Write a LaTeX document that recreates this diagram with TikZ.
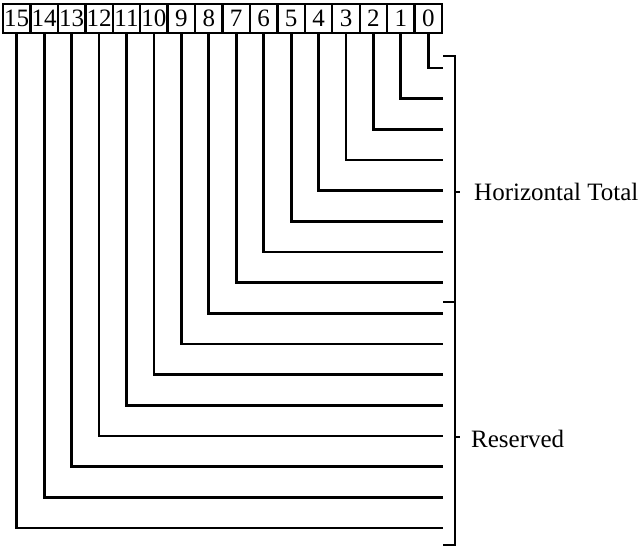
\documentclass[tikz,border=0pt]{standalone}
\usepackage{fontspec}
\setmainfont{Liberation Serif}
\usepackage{tikz}
\tikzstyle{bitbox}=[rectangle, draw=black, line width=2.4pt, minimum width=27.44pt, minimum height=29pt, inner sep=0pt, font=\fontsize{25}{25}\selectfont]
\tikzstyle{wire}=[draw=black, line width=2.8pt]
\tikzstyle{fieldname}=[inner sep=0pt, font=\fontsize{25}{25}\selectfont]

\begin{document}
\begin{tikzpicture}[x=1pt, y=-1pt]
		\useasboundingbox (0,0) rectangle (642,547);
		\foreach \i in {0,...,15} {
			\node[bitbox](b\i) at ({3+(15-\i+0.5)*27.44},18.5) {\i};
			\coordinate (e\i) at (443,{68+\i*30.67});
		}
		\foreach \i in {0,...,15}
			\path[wire] (b\i.south) |- (e\i);
		\coordinate (top0) at (443,56);
		\coordinate (top1) at (455,56);
		\coordinate (mid0) at (443,302);
		\coordinate (mid1) at (455,302);
		\coordinate (bot0) at (443,545);
		\coordinate (bot1) at (455,545);
		\node[fieldname, anchor=base west](total) at (474,200) {Horizontal Total};
		\node[fieldname, anchor=base west](resv) at (471,447) {Reserved};
		\path[wire, line width=2.4pt]
			(top0) -- (top1) -- (bot1) -- (bot0)
			(mid0) -- (mid1)
			(455,192) -- (460,192)
			(455,437) -- (460,437);
	\end{tikzpicture}
\end{document}
